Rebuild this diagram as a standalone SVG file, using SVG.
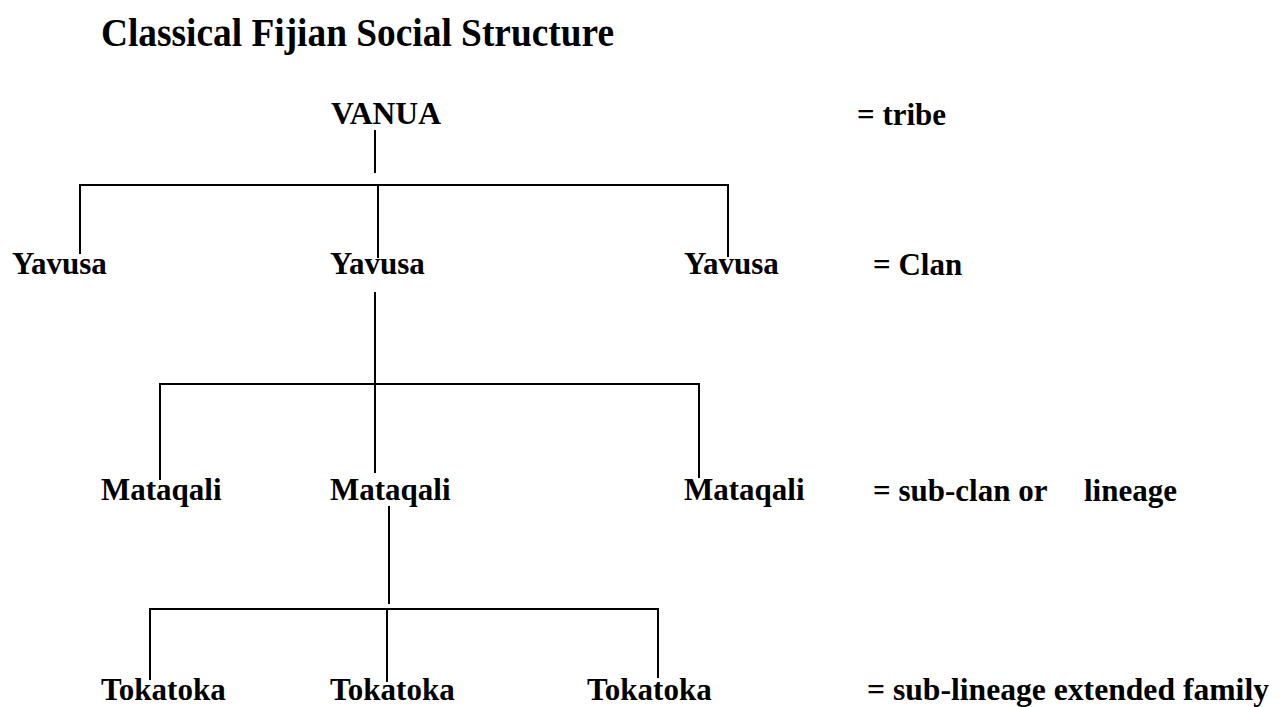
<svg xmlns="http://www.w3.org/2000/svg" width="1285" height="707" viewBox="0 0 1285 707">
  <style>
    .t { font-family: "Liberation Serif", "Times New Roman", serif; font-weight: bold; fill: #000; }
    .title { font-size: 39px; }
    .lbl { font-size: 31px; }
    .conn line { stroke: #000; stroke-width: 2; stroke-linecap: square; }
  </style>
  <rect width="1285" height="707" fill="#fff"/>

  <text class="t title" x="101" y="46" textLength="513" lengthAdjust="spacingAndGlyphs">Classical Fijian Social Structure</text>

  <!-- connectors -->
  <g id="connectors" class="conn">
    <!-- vanua to yavusa -->
    <line x1="375" y1="131" x2="375" y2="172"/>
    <line x1="80" y1="185" x2="728" y2="185"/>
    <line x1="80" y1="185" x2="80" y2="253"/>
    <line x1="378" y1="185" x2="378" y2="257"/>
    <line x1="728" y1="185" x2="728" y2="256"/>
    <!-- yavusa to mataqali -->
    <line x1="375" y1="293" x2="375" y2="472"/>
    <line x1="160" y1="384" x2="699" y2="384"/>
    <line x1="160" y1="384" x2="160" y2="479"/>
    <line x1="699" y1="384" x2="699" y2="477"/>
    <!-- mataqali to tokatoka -->
    <line x1="389" y1="507" x2="389" y2="603"/>
    <line x1="150" y1="609" x2="658" y2="609"/>
    <line x1="150" y1="609" x2="150" y2="679"/>
    <line x1="387" y1="609" x2="387" y2="681"/>
    <line x1="658" y1="609" x2="658" y2="677"/>
  </g>

  <g id="vanua"><text class="t lbl" x="331" y="124" textLength="110" lengthAdjust="spacingAndGlyphs">VANUA</text></g>
  <g id="legend-tribe"><text class="t lbl" x="857" y="125">= tribe</text></g>

  <g id="yavusa-1"><text class="t lbl" x="12" y="274">Yavusa</text></g>
  <g id="yavusa-2"><text class="t lbl" x="330" y="274">Yavusa</text></g>
  <g id="yavusa-3"><text class="t lbl" x="684" y="274">Yavusa</text></g>
  <g id="legend-clan"><text class="t lbl" x="873" y="275">= Clan</text></g>

  <g id="mataqali-1"><text class="t lbl" x="101" y="500">Mataqali</text></g>
  <g id="mataqali-2"><text class="t lbl" x="330" y="500">Mataqali</text></g>
  <g id="mataqali-3"><text class="t lbl" x="684" y="500">Mataqali</text></g>
  <g id="legend-subclan">
    <text class="t lbl" x="873" y="501">= sub-clan or</text>
    <text class="t lbl" x="1084" y="501">lineage</text>
  </g>

  <g id="tokatoka-1"><text class="t lbl" x="101" y="700">Tokatoka</text></g>
  <g id="tokatoka-2"><text class="t lbl" x="330" y="700">Tokatoka</text></g>
  <g id="tokatoka-3"><text class="t lbl" x="587" y="700">Tokatoka</text></g>
  <g id="legend-sublineage"><text class="t lbl" x="867" y="700" textLength="402" lengthAdjust="spacingAndGlyphs">= sub-lineage extended family</text></g>
</svg>
